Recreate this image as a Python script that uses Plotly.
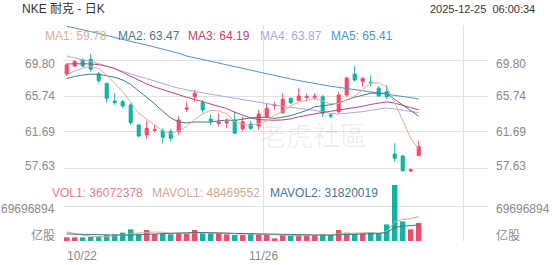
import plotly.graph_objects as go

# ---------------- data ----------------
dates = ["2025-10-22", "2025-10-23", "2025-10-24", "2025-10-27", "2025-10-28", "2025-10-29", "2025-10-30", "2025-10-31",
         "2025-11-03", "2025-11-04", "2025-11-05", "2025-11-06", "2025-11-07",
         "2025-11-10", "2025-11-11", "2025-11-12", "2025-11-13", "2025-11-14",
         "2025-11-17", "2025-11-18", "2025-11-19", "2025-11-20", "2025-11-21",
         "2025-11-24", "2025-11-25", "2025-11-26", "2025-11-28",
         "2025-12-01", "2025-12-02", "2025-12-03", "2025-12-04", "2025-12-05",
         "2025-12-08", "2025-12-09", "2025-12-10", "2025-12-11", "2025-12-12",
         "2025-12-15", "2025-12-16", "2025-12-17", "2025-12-18", "2025-12-19",
         "2025-12-22", "2025-12-23", "2025-12-24"]

opens = [68.22, 69.12, 69.80, 69.88, 68.22, 67.17, 65.18, 65.10, 64.73, 62.47, 61.35, 61.88, 61.83, 61.72, 61.72,
         64.25, 65.66, 64.99, 63.15, 62.64, 62.70, 63.04, 62.03, 62.59, 62.36, 63.41, 64.62, 63.86, 65.48, 65.22,
         65.57, 65.61, 65.66, 63.60, 63.97, 65.86, 68.22, 67.38, 67.32, 66.61, 66.23, 59.21, 58.98, 57.29, 59.02]
highs = [69.43, 69.80, 69.99, 70.48, 68.48, 67.21, 66.05, 65.29, 64.92, 62.59, 62.96, 62.47, 62.10, 61.99, 63.49,
         65.10, 66.42, 65.29, 63.60, 63.79, 63.23, 63.97, 63.41, 62.96, 64.17, 64.92, 65.10, 66.05, 65.60, 66.61,
         66.05, 66.05, 65.86, 63.79, 66.23, 67.92, 69.12, 67.85, 68.11, 66.87, 66.98, 60.41, 59.09, 57.57, 60.71]
lows = [68.00, 68.98, 68.98, 68.48, 67.17, 64.99, 64.73, 64.36, 62.47, 61.09, 60.86, 61.61, 60.41, 60.59, 61.35,
        63.97, 65.10, 63.86, 62.47, 62.28, 62.10, 61.50, 61.72, 61.91, 61.91, 63.23, 64.17, 63.71, 64.84, 65.22,
        65.10, 65.29, 63.41, 63.23, 63.79, 65.66, 67.38, 66.79, 66.79, 65.66, 65.37, 58.34, 57.21, 57.18, 59.02]
closes = [69.24, 69.61, 69.12, 68.75, 67.47, 65.48, 64.99, 64.62, 62.73, 61.24, 62.10, 61.95, 61.09, 60.98, 63.04,
          64.40, 66.05, 64.17, 62.93, 62.81, 62.85, 61.54, 62.85, 62.10, 63.71, 64.36, 64.73, 65.37, 64.99, 65.74,
          65.69, 65.71, 63.79, 63.49, 65.86, 67.77, 67.55, 67.74, 67.23, 65.74, 65.66, 58.72, 57.33, 57.44, 60.03]

volumes = [7300000, 7300000, 7300000, 8000000, 9300000, 11900000, 13300000, 16600000, 23200000, 13300000,
           21900000, 13900000, 15300000, 13300000, 15300000, 15300000, 21900000, 15300000, 15300000, 15300000,
           13300000, 12000000, 12000000, 15300000, 13300000, 13300000, 5300000, 12000000, 10000000, 12000000,
           12000000, 12000000, 13300000, 12000000, 21900000, 16600000, 13900000, 15300000, 16600000, 15300000,
           33000000, 111500000, 39000000, 23200000, 36072378]

ma1 = [68.11, 68.56, 68.90, 69.07, 68.84, 68.09, 67.16, 66.26, 65.06, 63.81, 63.14, 62.53, 61.82, 61.47, 61.83,
       62.29, 63.11, 63.73, 64.12, 64.07, 63.76, 62.86, 62.60, 62.43, 62.61, 62.91, 63.55, 64.05, 64.63, 65.04,
       65.30, 65.50, 65.18, 64.88, 64.91, 65.32, 65.69, 66.48, 67.23, 67.21, 66.78, 65.02, 62.94, 60.98, 59.78]
ma2 = [67.70, 67.95, 68.10, 68.20, 68.20, 68.05, 67.85, 67.55, 67.05, 66.33, 65.61, 64.85, 64.04, 63.27, 62.82,
       62.71, 62.82, 62.78, 62.80, 62.95, 63.03, 62.99, 63.16, 63.27, 63.34, 63.34, 63.21, 63.33, 63.53, 63.82,
       64.11, 64.53, 64.62, 64.76, 64.97, 65.31, 65.60, 65.83, 66.06, 66.06, 66.05, 65.36, 64.71, 64.10, 63.47]
ma3 = [69.35, 69.38, 69.38, 69.35, 69.28, 69.10, 68.85, 68.40, 67.95, 67.50, 67.10, 66.75, 66.45, 66.15, 65.85,
       65.60, 65.35, 65.10, 64.85, 64.64, 64.32, 63.92, 63.60, 63.27, 63.08, 63.03, 63.01, 63.05, 63.16, 63.39,
       63.57, 63.76, 63.89, 64.02, 64.16, 64.33, 64.40, 64.58, 64.79, 64.94, 65.08, 64.94, 64.66, 64.43, 64.19]
ma4 = [70.25, 70.05, 69.85, 69.67, 69.40, 69.10, 68.80, 68.48, 68.20, 67.95, 67.70, 67.40, 67.12, 66.88, 66.62,
       66.40, 66.25, 66.10, 65.95, 65.80, 65.62, 65.45, 65.28, 65.12, 64.98, 64.85, 64.72, 64.58, 64.47, 64.37,
       64.25, 64.12, 63.94, 63.77, 63.71, 63.79, 63.87, 63.98, 64.13, 64.28, 64.40, 64.29, 64.16, 64.05, 63.87]
ma5 = [73.60, 73.42, 73.22, 73.00, 72.78, 72.55, 72.32, 72.10, 71.88, 71.68, 71.49, 71.26, 71.04, 70.80, 70.55,
       70.25, 70.05, 69.85, 69.60, 69.38, 69.18, 68.98, 68.78, 68.58, 68.38, 68.20, 68.02, 67.84, 67.66, 67.48,
       67.30, 67.12, 66.98, 66.84, 66.72, 66.60, 66.48, 66.36, 66.22, 66.08, 65.96, 65.84, 65.70, 65.56, 65.41]

mavol1 = [18000000, 14500000, 11500000, 9500000, 7840000, 8760000, 9960000, 11820000, 14860000, 15660000,
          17660000, 17780000, 17520000, 15540000, 15940000, 14620000, 16220000, 16220000, 16620000, 16620000,
          16220000, 14240000, 13580000, 13580000, 13180000, 13180000, 11840000, 11840000, 10780000, 10520000,
          10260000, 11600000, 11860000, 12260000, 14240000, 15160000, 15540000, 15940000, 16860000, 15540000,
          18820000, 38340000, 43080000, 44400000, 48469552]
mavol2 = [14000000, 13500000, 13000000, 12500000, 12000000, 11800000, 11600000, 11600000, 11700000, 11750000,
          13210000, 13870000, 14670000, 15200000, 15800000, 16140000, 17000000, 16870000, 16080000, 16280000,
          15420000, 15230000, 14900000, 15100000, 14900000, 14700000, 13040000, 12710000, 12180000, 11850000,
          11720000, 11720000, 11850000, 11520000, 12380000, 12710000, 13570000, 13900000, 14560000, 14890000,
          16990000, 26940000, 29510000, 30630000, 31820019]

price_ticks = [57.63, 61.69, 65.74, 69.80]
price_tick_labels = ["57.63", "61.69", "65.74", "69.80"]
vol_tick = 69696894
vol_tick_label = "69696894"
vol_unit_label = "亿股"
x_tick_labels = ["10/22", "11/26"]
x_tick_index = [0, 25]

title_text = "NKE 耐克 - 日K"
time_text = "2025-12-25  06:00:34"
ma_names = ["MA1", "MA2", "MA3", "MA4", "MA5"]
ma_last = ["59.78", "63.47", "64.19", "63.87", "65.41"]
vol_names = ["VOL1", "MAVOL1", "MAVOL2"]
vol_last = ["36072378", "48469552", "31820019"]

# ---------------- style ----------------
RED = "#f24b6b"
TEAL = "#12b3a3"
MA_COLORS = ["#dcae94", "#3f7a8e", "#c2436f", "#a9a9e2", "#4b94c6"]
VOL_COLORS = ["#f0788e", "#d2a88e", "#3f7a8e"]
GRID = "#e2e2e2"
LABEL = "#8a8a8a"
FONT = "Liberation Sans, Arial, Noto Sans CJK SC, sans-serif"

W, H = 552, 265
L, R, T, B = 64, 64, 25, 24
PW, PH = W - L - R, H - T - B
PX_PER_BAR = 8.0
X0 = -(66.7 - L) / PX_PER_BAR
X1 = X0 + PW / PX_PER_BAR
PX_PER_PRICE = 8.874
P_TOP = 69.80 + (60 - T) / PX_PER_PRICE
P_BOT = 69.80 - (H - B - 60) / PX_PER_PRICE
V_TOP = vol_tick * PH / 35.0
GRID_OFF = -0.34


def fx(px):
    return (px - L) / PW


def fy(py):
    return (H - B - py) / PH


n = len(dates)
xs = list(range(n))
vol_colors = [RED if c >= o else TEAL for o, c in zip(opens, closes)]

fig = go.Figure()

fig.add_trace(go.Bar(x=xs, y=volumes, marker=dict(color=vol_colors, line=dict(width=0)),
                     width=0.68, yaxis="y2", hoverinfo="skip", showlegend=False))
fig.add_trace(go.Scatter(x=xs, y=mavol1, mode="lines", line=dict(color=VOL_COLORS[1], width=1),
                         yaxis="y2", hoverinfo="skip", showlegend=False))
fig.add_trace(go.Scatter(x=xs, y=mavol2, mode="lines", line=dict(color=VOL_COLORS[2], width=1),
                         yaxis="y2", hoverinfo="skip", showlegend=False))

fig.add_trace(go.Candlestick(x=xs, open=opens, high=highs, low=lows, close=closes,
                             increasing=dict(line=dict(color=RED, width=1), fillcolor=RED),
                             decreasing=dict(line=dict(color=TEAL, width=1), fillcolor=TEAL),
                             whiskerwidth=0, hoverinfo="skip", showlegend=False))
for ser, col in zip([ma5, ma4, ma3, ma2, ma1], MA_COLORS[::-1]):
    fig.add_trace(go.Scatter(x=xs, y=ser, mode="lines", line=dict(color=col, width=1),
                             hoverinfo="skip", showlegend=False))

ann = []
# header
ann.append(dict(text=title_text, x=fx(20), y=fy(8.5), xanchor="left", yanchor="middle",
                font=dict(size=12, color="#333333")))
ann.append(dict(text=time_text, x=fx(537), y=fy(8.5), xanchor="right", yanchor="middle",
                font=dict(size=11, color="#333333")))
# MA legend
ma_x = [43, 116, 186, 258, 329]
for name, val, col, px in zip(ma_names, ma_last, MA_COLORS, ma_x):
    ann.append(dict(text=f"{name}: {val}", x=fx(px), y=fy(36), xanchor="left", yanchor="middle",
                    font=dict(size=12, color=col)))
# VOL legend
vol_x = [50, 150, 268]
for name, val, col, px in zip(vol_names, vol_last, VOL_COLORS, vol_x):
    ann.append(dict(text=f"{name}: {val}", x=fx(px), y=fy(193), xanchor="left", yanchor="middle",
                    font=dict(size=12, color=col)))
# price labels
shifts = {"57.63": 2.4, "61.69": 0, "65.74": 0, "69.80": -3.7}
for v, lab in zip(price_ticks, price_tick_labels):
    for px, anc in [(57, "right"), (494, "left")]:
        ann.append(dict(text=lab, x=fx(px), y=v, xref="paper", yref="y", xanchor=anc, yanchor="middle",
                        yshift=shifts[lab], font=dict(size=12, color=LABEL)))
for px, anc in [(57, "right"), (494, "left")]:
    ann.append(dict(text=vol_tick_label, x=fx(px), y=vol_tick, xref="paper", yref="y2", xanchor=anc,
                    yanchor="middle", yshift=-2.6, font=dict(size=12, color=LABEL)))
    ann.append(dict(text=vol_unit_label, x=fx(px), y=0, xref="paper", yref="y2", xanchor=anc,
                    yanchor="middle", yshift=5.3, font=dict(size=12, color=LABEL)))
# x labels
ann.append(dict(text=x_tick_labels[0], x=X0, y=fy(256), xref="x", yref="paper", xanchor="left",
                yanchor="middle", xshift=1, font=dict(size=12, color=LABEL)))
ann.append(dict(text=x_tick_labels[1], x=x_tick_index[1] + GRID_OFF, y=fy(256), xref="x", yref="paper",
                xanchor="center", yanchor="middle", font=dict(size=12, color=LABEL)))
# watermark
ann.append(dict(text="老虎社區", x=fx(313), y=fy(134), xanchor="center", yanchor="middle",
                font=dict(size=27, color="rgba(0,0,0,0.07)", family="Noto Sans CJK TC")))

for a in ann:
    a.setdefault("xref", "paper")
    a.setdefault("yref", "paper")
    a["showarrow"] = False
    a.setdefault("font", {})
fig.update_layout(annotations=ann)

fig.update_layout(
    width=W, height=H,
    margin=dict(l=L, r=R, t=T, b=B, pad=0),
    paper_bgcolor="white", plot_bgcolor="white",
    font=dict(family=FONT, size=12, color=LABEL),
    boxgap=0.45, bargap=0.3,
    showlegend=False, hovermode=False,
    xaxis=dict(range=[X0, X1], tickvals=[GRID_OFF, 25 + GRID_OFF, 50 + GRID_OFF, X1],
               showticklabels=False, ticks="", showgrid=True, gridcolor=GRID, gridwidth=1,
               zeroline=False, showline=False, rangeslider=dict(visible=False), fixedrange=True),
    yaxis=dict(range=[P_BOT, P_TOP], tickvals=price_ticks, showticklabels=False, ticks="",
               showgrid=True, gridcolor=GRID, zeroline=False, showline=False, fixedrange=True),
    yaxis2=dict(range=[0, V_TOP], overlaying="y", side="right", tickvals=[0, vol_tick],
                showticklabels=False, ticks="", showgrid=True, gridcolor=GRID, zeroline=False,
                showline=False, fixedrange=True),
)

fig.write_html("out.html", config={"displayModeBar": False})
